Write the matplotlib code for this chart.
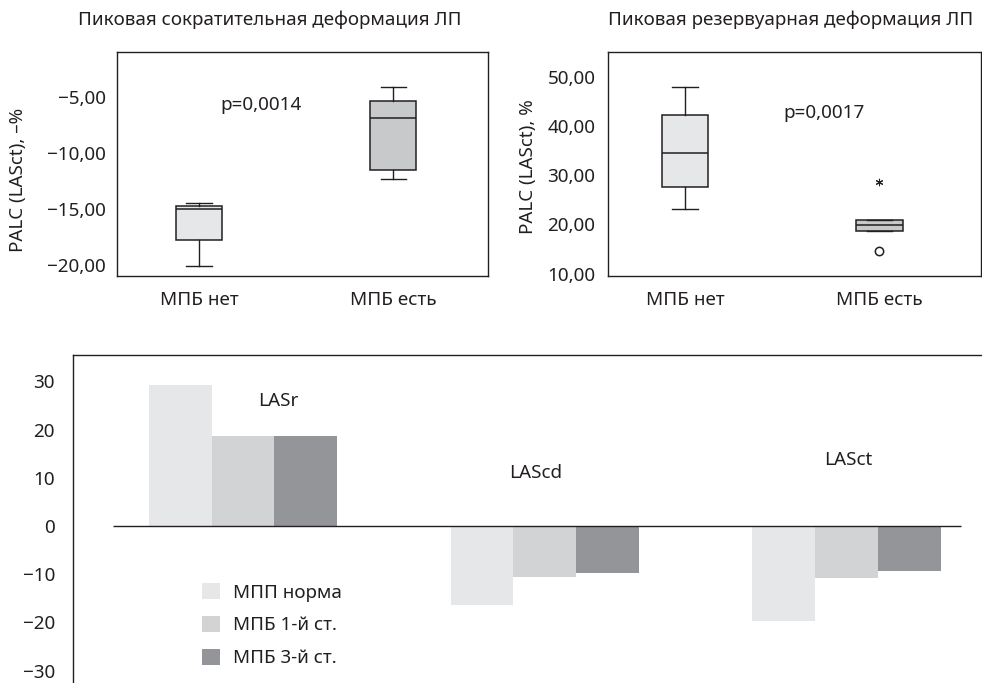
import matplotlib
matplotlib.use("Agg")
import matplotlib.pyplot as plt
import numpy as np

plt.rcParams['font.family'] = ['Noto Sans', 'DejaVu Sans']

INK = '#231f20'
FS = 13.6

# ---- box plot data: peak contraction strain (LASct) ----
groups = ['МПБ нет', 'МПБ есть']
ct_whislo = [-20.1, -12.3]
ct_q1 = [-17.8, -11.5]
ct_med = [-15.0, -6.85]
ct_q3 = [-14.75, -5.4]
ct_whishi = [-14.5, -4.15]
ct_ticks = [-5, -10, -15, -20]
ct_ticklabels = ['−5,00', '−10,00', '−15,00', '−20,00']
ct_p = 'p=0,0014'

# ---- box plot data: peak reservoir strain (LASr) ----
r_whislo = [23.1, 18.6]
r_q1 = [27.6, 18.6]
r_med = [34.5, 19.9]
r_q3 = [42.3, 20.9]
r_whishi = [47.9, 20.9]
r_outliers = [[], [14.6]]
r_extremes = [[], [28.5]]
r_ticks = [50, 40, 30, 20, 10]
r_ticklabels = ['50,00', '40,00', '30,00', '20,00', '10,00']
r_p = 'p=0,0017'

box_faces = ['#e6e7e8', '#c8c9cb']

# ---- grouped bar data ----
bar_groups = ['LASr', 'LAScd', 'LASct']
series_names = ['МПП норма', 'МПБ 1-й ст.', 'МПБ 3-й ст.']
series_values = [
    [29.3, -16.4, -19.8],
    [18.7, -10.5, -10.7],
    [18.7, -9.7, -9.3],
]
series_colors = ['#e6e7e8', '#d1d3d4', '#939598']
bar_yticks = [30, 20, 10, 0, -10, -20, -30]
bar_yticklabels = ['30', '20', '10', '0', '−10', '−20', '−30']

fig = plt.figure(figsize=(9.82, 6.83), dpi=100)
W, H = 982, 683


def px_axes(l, t, r, b):
    return fig.add_axes([l / W, (H - b) / H, (r - l) / W, (b - t) / H])


def draw_box(ax, whislo, q1, med, q3, whishi, fliers):
    stats = []
    for i in range(len(groups)):
        stats.append(dict(whislo=whislo[i], q1=q1[i], med=med[i], q3=q3[i],
                          whishi=whishi[i], fliers=fliers[i]))
    res = ax.bxp(stats, positions=[1, 2], widths=0.24, capwidths=0.13,
                 patch_artist=True, manage_ticks=False,
                 boxprops=dict(edgecolor=INK, linewidth=1.1),
                 whiskerprops=dict(color=INK, linewidth=1.0),
                 capprops=dict(color=INK, linewidth=1.0),
                 medianprops=dict(color=INK, linewidth=1.1),
                 flierprops=dict(marker='o', markersize=6, markerfacecolor='white',
                                 markeredgecolor=INK, markeredgewidth=1.1))
    for patch, fc in zip(res['boxes'], box_faces):
        patch.set_facecolor(fc)
    for sp in ax.spines.values():
        sp.set_color(INK)
        sp.set_linewidth(1.0)
    ax.set_xticks([1, 2])
    ax.set_xticklabels(groups, fontsize=FS, color=INK)
    ax.tick_params(axis='both', length=0)
    ax.tick_params(axis='x', pad=11)


# left box plot
ax1 = px_axes(117, 52, 488, 276)
draw_box(ax1, ct_whislo, ct_q1, ct_med, ct_q3, ct_whishi, [[], []])
ax1.set_xlim(0.577, 2.489)
ax1.set_ylim(-21, -1)
ax1.set_yticks(ct_ticks)
ax1.set_yticklabels(ct_ticklabels, fontsize=FS, color=INK)
ax1.tick_params(axis='y', pad=8)
ax1.text(1.32, -5.75, ct_p, fontsize=FS, color=INK, ha='center', va='center')

# right box plot
ax2 = px_axes(608, 52, 981, 276)
draw_box(ax2, r_whislo, r_q1, r_med, r_q3, r_whishi, r_outliers)
for i, ext in enumerate(r_extremes):
    if ext:
        ax2.scatter([i + 1] * len(ext), ext, marker=(6, 2, 0), s=22,
                    color=INK, linewidths=0.8, zorder=3)
ax2.set_xlim(0.604, 2.523)
ax2.set_ylim(9.5, 55)
ax2.set_yticks(r_ticks)
ax2.set_yticklabels(r_ticklabels, fontsize=FS, color=INK)
ax2.tick_params(axis='y', pad=9)
ax2.text(1.715, 42.6, r_p, fontsize=FS, color=INK, ha='center', va='center')

# titles and axis labels
fig.text(270 / W, 1 - 20 / H, 'Пиковая сократительная деформация ЛП',
         fontsize=13.5, color=INK, ha='center', va='center')
fig.text(791 / W, 1 - 20 / H, 'Пиковая резервуарная деформация ЛП',
         fontsize=13.5, color=INK, ha='center', va='center')
fig.text(18 / W, 1 - 180 / H, 'PALC (LASct), –%', rotation=90,
         fontsize=13.5, color=INK, ha='center', va='center')
fig.text(528 / W, 1 - 167 / H, 'PALC (LASct), %', rotation=90,
         fontsize=13.5, color=INK, ha='center', va='center')

# grouped bar chart
ax3 = px_axes(73, 355, 1010, 700)
x = np.arange(len(bar_groups))
bw = 0.2078
for k, (name, vals, col) in enumerate(zip(series_names, series_values, series_colors)):
    ax3.bar(x + (k - 1) * bw, vals, width=bw, color=col, edgecolor='none',
            label=name, zorder=1)
ax3.hlines(0, x[0] - 0.43, x[-1] + 0.38, color=INK, linewidth=1.0, zorder=3)
ax3.set_xlim(-0.5634, 2.542)
ax3.set_ylim(-36.08, 35.45)
ax3.set_xticks([])
ax3.set_yticks(bar_yticks)
ax3.set_yticklabels(bar_yticklabels, fontsize=FS, color=INK)
ax3.tick_params(axis='y', length=0, pad=13)
for sp in ax3.spines.values():
    sp.set_color(INK)
    sp.set_linewidth(1.0)

label_pos = [(0.116, 25.9), (0.971, 11.0), (2.005, 13.7)]
for name, (lx, ly) in zip(bar_groups, label_pos):
    ax3.text(lx, ly, name, fontsize=FS, color=INK, ha='center', va='center')

ax3.legend(loc='upper left', bbox_to_anchor=(202 / W, 1 - 583 / H),
           bbox_transform=fig.transFigure, frameon=False, borderpad=0,
           borderaxespad=0, fontsize=13.5, handlelength=0.95, handleheight=0.95,
           handletextpad=0.72, labelspacing=0.77, labelcolor=INK)

fig.savefig('out.png', dpi=100)
